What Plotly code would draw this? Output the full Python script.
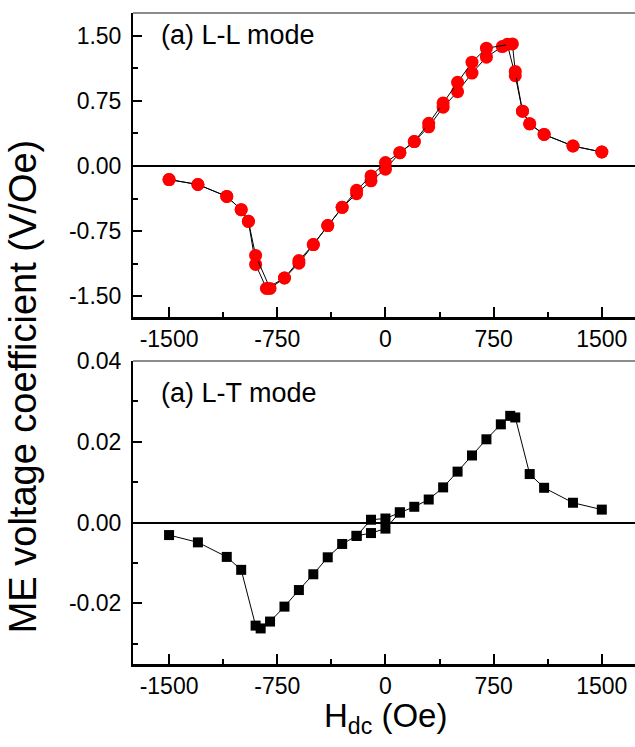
import plotly.graph_objects as go

# ---- Data: L-L mode (two field sweeps) ----
ll_up_h = [-1500, -1300, -1100, -1000, -950, -900, -825, -700, -600, -500, -400, -300, -200, -100, 0,
           100, 200, 300, 400, 500, 600, 700, 810, 845, 900, 950, 1000, 1100, 1300, 1500]
ll_up_v = [-0.157, -0.214, -0.351, -0.504, -0.638, -1.134, -1.41, -1.29, -1.12, -0.905, -0.687, -0.477, -0.32, -0.172, -0.038,
           0.152, 0.28, 0.45, 0.676, 0.854, 1.068, 1.252, 1.374, 1.40, 1.038, 0.63, 0.484, 0.362, 0.229, 0.160]
ll_dn_h = [1500, 1300, 1100, 1000, 950, 900, 880, 700, 600, 500, 400, 300, 200, 100, 0,
           -100, -200, -300, -400, -500, -600, -700, -800, -900, -950, -1000, -1100, -1300, -1500]
ll_dn_v = [0.160, 0.229, 0.362, 0.484, 0.63, 1.088, 1.404, 1.355, 1.194, 0.962, 0.725, 0.49, 0.28, 0.152, 0.038,
           -0.115, -0.28, -0.477, -0.687, -0.905, -1.09, -1.29, -1.41, -1.03, -0.638, -0.504, -0.351, -0.214, -0.157]

# ---- Data: L-T mode ----
lt_up_h = [-1500, -1300, -1100, -1000, -900, -865, -800, -700, -600, -500, -400, -300, -200, -100, 0,
           100, 200, 300, 400, 500, 600, 700, 800, 865, 900, 1000, 1100, 1300, 1500]
lt_up_v = [-0.0031, -0.0049, -0.0085, -0.0117, -0.0255, -0.0262, -0.0245, -0.0208, -0.0167, -0.0128, -0.0086, -0.0053, -0.0033, 0.0007, 0.0010,
           0.0025, 0.0039, 0.0057, 0.0087, 0.0126, 0.0166, 0.0206, 0.0243, 0.0264, 0.0260, 0.0120, 0.0086, 0.0049, 0.0032]
lt_dn_h = [100, 0, -100, -200]
lt_dn_v = [0.0025, -0.0015, -0.0026, -0.0033]

x_ticks = [-1500, -750, 0, 750, 1500]
x_ticklabels = ["-1500", "-750", "0", "750", "1500"]
ll_ticks = [-1.5, -0.75, 0.0, 0.75, 1.5]
ll_ticklabels = ["-1.50", "-0.75", "0.00", "0.75", "1.50"]
lt_ticks = [-0.02, 0.0, 0.02, 0.04]
lt_ticklabels = ["-0.02", "0.00", "0.02", "0.04"]

FONT = "Liberation Sans, Arial, sans-serif"

fig = go.Figure()

line_style = dict(color="black", width=1)
ll_marker = dict(symbol="circle", size=13, color="#ff0000", line=dict(width=0))
lt_marker = dict(symbol="square", size=10, color="black", line=dict(width=0))

fig.add_trace(go.Scatter(x=ll_up_h, y=ll_up_v, mode="lines+markers", line=line_style, marker=ll_marker,
                         xaxis="x", yaxis="y", showlegend=False))
fig.add_trace(go.Scatter(x=ll_dn_h, y=ll_dn_v, mode="lines+markers", line=line_style, marker=ll_marker,
                         xaxis="x", yaxis="y", showlegend=False))
fig.add_trace(go.Scatter(x=lt_up_h, y=lt_up_v, mode="lines+markers", line=line_style, marker=lt_marker,
                         xaxis="x2", yaxis="y2", showlegend=False))
fig.add_trace(go.Scatter(x=lt_dn_h, y=lt_dn_v, mode="lines+markers", line=line_style, marker=lt_marker,
                         xaxis="x2", yaxis="y2", showlegend=False))

W, H = 635, 747
ml, mr, mt, mb = 133, 0, 10, 83
ph = H - mt - mb
top_lo = 1 - (315.5 - mt) / ph
bot_hi = 1 - (359.5 - mt) / ph

xaxis_common = dict(range=[-1750, 1730], tickvals=x_ticks, ticktext=x_ticklabels, ticks="inside", ticklen=10, tickwidth=2,
                    tickcolor="black", showline=True, linecolor="black", linewidth=2.5,
                    showgrid=False, zeroline=False,
                    minor=dict(tickvals=[-1125, -375, 375, 1125], ticks="inside", ticklen=5, tickwidth=2, tickcolor="black"),
                    tickfont=dict(family=FONT, size=23, color="black"))
yaxis_common = dict(ticks="inside", ticklen=9, tickwidth=1.5, tickcolor="black", showline=True,
                    linecolor="black", linewidth=2, showgrid=False, zeroline=True, zerolinecolor="black",
                    zerolinewidth=1.5, ticklabelstandoff=5, tickfont=dict(family=FONT, size=23, color="black"))

fig.update_layout(
    width=W, height=H,
    margin=dict(l=ml, r=mr, t=mt, b=mb),
    paper_bgcolor="white", plot_bgcolor="white",
    xaxis=dict(**xaxis_common, domain=[0, 1], anchor="y"),
    yaxis=dict(**yaxis_common, domain=[top_lo, 1], anchor="x", range=[-1.74, 1.76],
               tickvals=ll_ticks, ticktext=ll_ticklabels,
               minor=dict(tickvals=[-1.125, -0.375, 0.375, 1.125], ticks="inside", ticklen=5, tickwidth=1.5, tickcolor="black")),
    xaxis2=dict(**xaxis_common, domain=[0, 1], anchor="y2"),
    yaxis2=dict(**yaxis_common, domain=[0, bot_hi], anchor="x2", range=[-0.035, 0.04],
                tickvals=lt_ticks, ticktext=lt_ticklabels,
                minor=dict(tickvals=[-0.03, -0.01, 0.01, 0.03], ticks="inside", ticklen=5, tickwidth=1.5, tickcolor="black")),
    shapes=[
        dict(type="line", xref="paper", yref="paper", x0=0, x1=1, y0=1, y1=1, line=dict(color="#666666", width=1.5)),
        dict(type="line", xref="paper", yref="paper", x0=0, x1=1, y0=bot_hi, y1=bot_hi, line=dict(color="#666666", width=1.5)),
    ],
    annotations=[
        dict(text="(a) L-L mode", xref="paper", yref="paper", x=(159 - ml) / (W - ml), y=1 - (32 - mt) / ph,
             xanchor="left", yanchor="middle", showarrow=False, font=dict(family=FONT, size=27, color="black")),
        dict(text="(a) L-T mode", xref="paper", yref="paper", x=(159 - ml) / (W - ml), y=1 - (392 - mt) / ph,
             xanchor="left", yanchor="middle", showarrow=False, font=dict(family=FONT, size=27, color="black")),
        dict(text="ME voltage coefficient (V/Oe)", xref="paper", yref="paper", x=(23 - ml) / (W - ml),
             y=1 - (385 - mt) / ph, xanchor="center", yanchor="middle", textangle=-90, showarrow=False,
             font=dict(family=FONT, size=38, color="black")),
        dict(text="H<sub>dc</sub> (Oe)", xref="paper", yref="paper", x=(385 - ml) / (W - ml),
             y=1 - (718 - mt) / ph, xanchor="center", yanchor="middle", showarrow=False,
             font=dict(family=FONT, size=33, color="black")),
    ],
)

fig.write_html("out.html")
